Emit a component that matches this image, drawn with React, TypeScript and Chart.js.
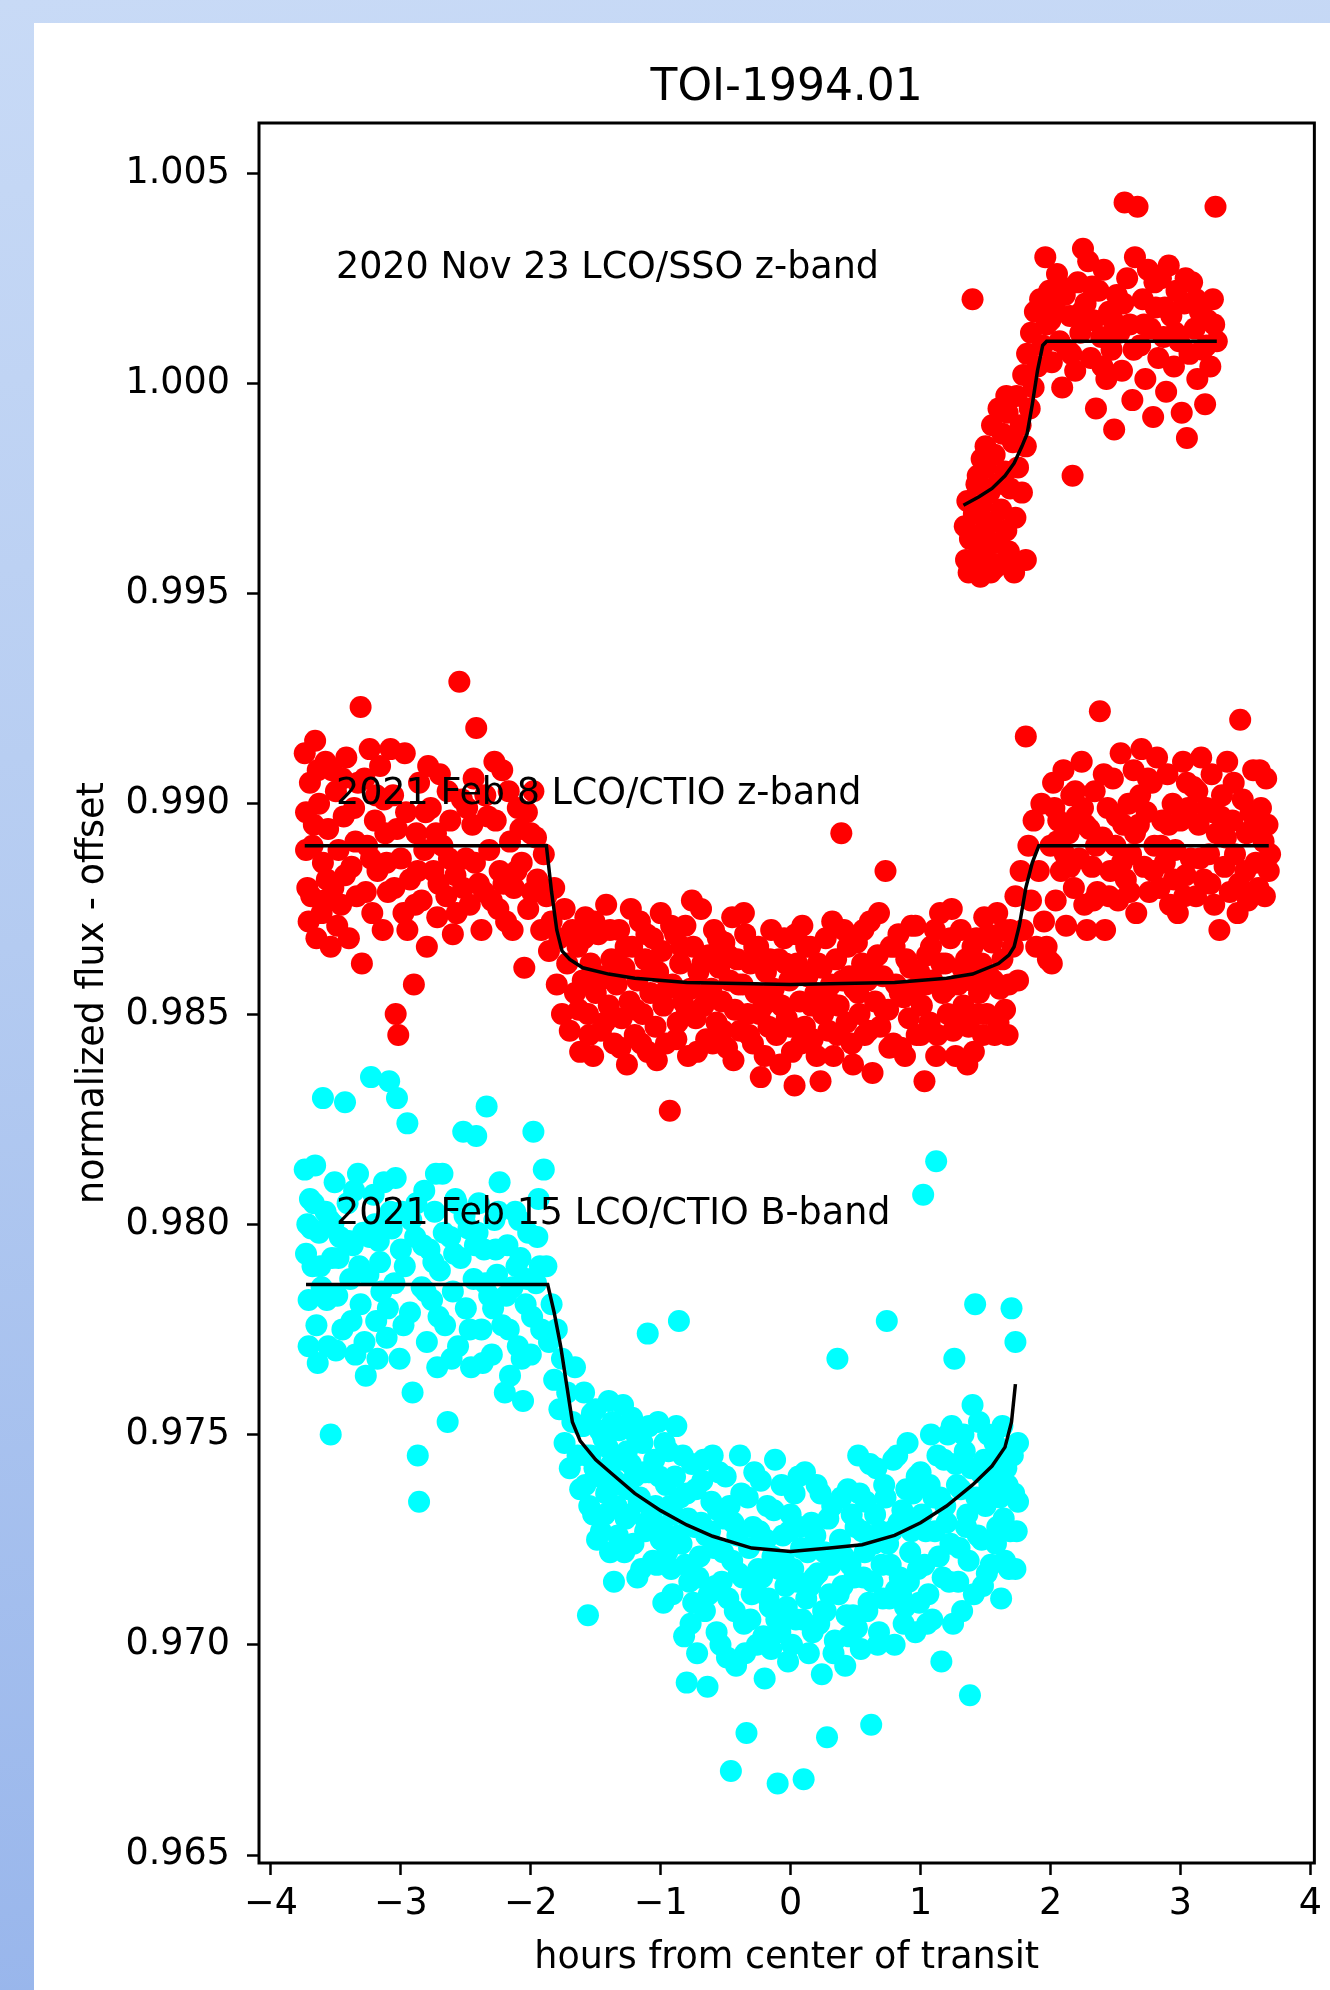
import React, { useEffect, useRef } from "react";
import { Chart, registerables } from "chart.js";

Chart.register(...registerables);

const FONT = '"DejaVu Sans", "Liberation Sans", sans-serif';

const chartTitle = "TOI-1994.01";
const xLabel = "hours from center of transit";
const yLabel = "normalized flux - offset";

const xTicks = [-4, -3, -2, -1, 0, 1, 2, 3, 4];
const yTicks = [0.965, 0.97, 0.975, 0.98, 0.985, 0.99, 0.995, 1.0, 1.005];
const xRange = [-4.092, 4.031];
const yRange = [0.96481, 1.00619];

const annotationTexts = [
  "2020 Nov 23 LCO/SSO z-band",
  "2021 Feb 8 LCO/CTIO z-band",
  "2021 Feb 15 LCO/CTIO B-band",
];
const annotationX = [-3.5, -3.5, -3.5];
const annotationY = [1.0025, 0.99, 0.98];

const nov23Points: [number, number][] = [
  [1.34, 0.9966], [1.35, 0.9958], [1.36, 0.9972], [1.37, 0.9955], [1.38, 0.9963], [1.40, 1.0020],
  [1.41, 0.9969], [1.42, 0.9957], [1.43, 0.9976], [1.44, 0.9978], [1.45, 0.9961], [1.46, 0.9954],
  [1.47, 0.9971], [1.47, 0.9982], [1.49, 0.9965], [1.50, 0.9980], [1.50, 0.9985], [1.51, 0.9958],
  [1.53, 0.9974], [1.54, 0.9955], [1.55, 0.9967], [1.55, 0.9990], [1.57, 0.9983], [1.57, 0.9956],
  [1.58, 0.9962], [1.59, 0.9976], [1.60, 0.9994], [1.61, 0.9957], [1.62, 0.9970], [1.63, 0.9988],
  [1.65, 0.9979], [1.66, 0.9965], [1.66, 0.9997], [1.67, 0.9993], [1.68, 0.9960], [1.69, 0.9975],
  [1.70, 0.9957], [1.71, 0.9986], [1.72, 0.9955], [1.73, 0.9968], [1.74, 0.9997], [1.75, 0.9980],
  [1.77, 0.9990], [1.78, 0.9974], [1.79, 1.0002], [1.81, 0.9985], [1.81, 0.9958], [1.82, 1.0007],
  [1.84, 0.9994], [1.85, 1.0012], [1.87, 0.9999], [1.88, 1.0017], [1.90, 1.0004], [1.92, 1.0020],
  [1.94, 1.0009], [1.96, 1.0030], [1.97, 1.0014], [1.99, 1.0022], [2.00, 1.0015], [2.01, 1.0005],
  [2.03, 1.0018], [2.05, 1.0026], [2.07, 1.0010], [2.08, 1.0023], [2.09, 0.9999], [2.11, 1.0021],
  [2.13, 1.0008], [2.15, 1.0016], [2.16, 1.0007], [2.17, 0.9978], [2.19, 1.0003], [2.21, 1.0024],
  [2.23, 1.0012], [2.24, 1.0017], [2.25, 1.0032], [2.27, 1.0019], [2.29, 1.0029], [2.31, 1.0006],
  [2.32, 1.0023], [2.33, 1.0015], [2.35, 0.9994], [2.37, 1.0022], [2.39, 1.0011], [2.40, 1.0004],
  [2.41, 1.0027], [2.43, 1.0001], [2.45, 1.0017], [2.47, 1.0008], [2.48, 1.0015], [2.49, 0.9989],
  [2.51, 1.0021], [2.53, 1.0012], [2.55, 1.0003], [2.56, 1.0019], [2.57, 1.0043], [2.59, 1.0025],
  [2.61, 1.0014], [2.63, 0.9996], [2.64, 1.0008], [2.65, 1.0030], [2.67, 1.0042], [2.69, 1.0009],
  [2.71, 1.0020], [2.72, 1.0014], [2.73, 1.0001], [2.75, 1.0027], [2.77, 1.0013], [2.79, 0.9992],
  [2.80, 1.0024], [2.81, 1.0018], [2.83, 1.0006], [2.85, 1.0025], [2.87, 1.0011], [2.88, 1.0018],
  [2.89, 0.9998], [2.91, 1.0028], [2.93, 1.0016], [2.95, 1.0004], [2.96, 1.0012], [2.97, 1.0022],
  [2.99, 1.0010], [3.01, 0.9993], [3.03, 1.0019], [3.04, 1.0025], [3.05, 0.9987], [3.07, 1.0007],
  [3.09, 1.0024], [3.11, 1.0013], [3.12, 1.0020], [3.13, 1.0001], [3.15, 1.0017], [3.17, 1.0008],
  [3.19, 0.9995], [3.20, 1.0009], [3.21, 1.0015], [3.23, 1.0004], [3.25, 1.0020], [3.26, 1.0014],
  [3.27, 1.0042], [3.28, 1.0010],
];

const feb8Points: [number, number][] = [
  [-3.74, 0.9912], [-3.73, 0.9898], [-3.73, 0.9889], [-3.72, 0.9880], [-3.71, 0.9872], [-3.70, 0.9905],
  [-3.69, 0.9878], [-3.68, 0.9890], [-3.67, 0.9895], [-3.66, 0.9915], [-3.65, 0.9868], [-3.64, 0.9908],
  [-3.63, 0.9900], [-3.61, 0.9874], [-3.60, 0.9886], [-3.59, 0.9877], [-3.58, 0.9910], [-3.57, 0.9882],
  [-3.56, 0.9894], [-3.54, 0.9866], [-3.53, 0.9908], [-3.52, 0.9880], [-3.50, 0.9903], [-3.49, 0.9871],
  [-3.48, 0.9889], [-3.46, 0.9876], [-3.45, 0.9906], [-3.44, 0.9897], [-3.43, 0.9883], [-3.42, 0.9911],
  [-3.40, 0.9868], [-3.38, 0.9885], [-3.36, 0.9899], [-3.35, 0.9891], [-3.34, 0.9878], [-3.33, 0.9905],
  [-3.31, 0.9923], [-3.30, 0.9862], [-3.28, 0.9906], [-3.27, 0.9879], [-3.26, 0.9890], [-3.24, 0.9913],
  [-3.23, 0.9887], [-3.22, 0.9874], [-3.20, 0.9896], [-3.19, 0.9902], [-3.18, 0.9884], [-3.16, 0.9909],
  [-3.14, 0.9870], [-3.13, 0.9901], [-3.12, 0.9893], [-3.11, 0.9886], [-3.10, 0.9879], [-3.08, 0.9913],
  [-3.06, 0.9902], [-3.05, 0.9880], [-3.04, 0.9850], [-3.03, 0.9894], [-3.02, 0.9845], [-3.00, 0.9887],
  [-2.98, 0.9874], [-2.97, 0.9912], [-2.96, 0.9898], [-2.95, 0.9870], [-2.93, 0.9882], [-2.90, 0.9857],
  [-2.89, 0.9876], [-2.88, 0.9893], [-2.87, 0.9884], [-2.86, 0.9905], [-2.84, 0.9877], [-2.82, 0.9889],
  [-2.81, 0.9898], [-2.80, 0.9866], [-2.79, 0.9909], [-2.77, 0.9899], [-2.75, 0.9884], [-2.73, 0.9893],
  [-2.72, 0.9873], [-2.71, 0.9881], [-2.70, 0.9907], [-2.68, 0.9890], [-2.65, 0.9878], [-2.64, 0.9903],
  [-2.63, 0.9887], [-2.62, 0.9896], [-2.60, 0.9869], [-2.58, 0.9883], [-2.57, 0.9874], [-2.55, 0.9929],
  [-2.53, 0.9901], [-2.52, 0.9880], [-2.50, 0.9887], [-2.49, 0.9899], [-2.47, 0.9876], [-2.45, 0.9895],
  [-2.44, 0.9906], [-2.43, 0.9886], [-2.42, 0.9918], [-2.40, 0.9881], [-2.38, 0.9870], [-2.36, 0.9879],
  [-2.35, 0.9902], [-2.33, 0.9897], [-2.32, 0.9889], [-2.30, 0.9877], [-2.28, 0.9910], [-2.27, 0.9896],
  [-2.25, 0.9875], [-2.24, 0.9884], [-2.22, 0.9908], [-2.21, 0.9881], [-2.19, 0.9872], [-2.17, 0.9903],
  [-2.16, 0.9891], [-2.14, 0.9870], [-2.13, 0.9880], [-2.11, 0.9884], [-2.10, 0.9899], [-2.08, 0.9894],
  [-2.07, 0.9886], [-2.05, 0.9861], [-2.03, 0.9898], [-2.02, 0.9875], [-2.00, 0.9893], [-1.99, 0.9879],
  [-1.98, 0.9903], [-1.96, 0.9892], [-1.95, 0.9882], [-1.92, 0.9870], [-1.90, 0.9888],
  [-1.88, 0.9878], [-1.86, 0.9865], [-1.84, 0.9872], [-1.82, 0.9880], [-1.80, 0.9857], [-1.78, 0.9868],
  [-1.76, 0.9850], [-1.74, 0.9875], [-1.72, 0.9862], [-1.70, 0.9846], [-1.68, 0.9870], [-1.66, 0.9855],
  [-1.64, 0.9866], [-1.63, 0.9851], [-1.62, 0.9841], [-1.60, 0.9858], [-1.59, 0.9868], [-1.58, 0.9873],
  [-1.56, 0.9850], [-1.55, 0.9845], [-1.54, 0.9862], [-1.52, 0.9840], [-1.51, 0.9872], [-1.50, 0.9855],
  [-1.48, 0.9869], [-1.47, 0.9858], [-1.46, 0.9846], [-1.44, 0.9859], [-1.43, 0.9848], [-1.42, 0.9876],
  [-1.40, 0.9852], [-1.39, 0.9870], [-1.38, 0.9863], [-1.36, 0.9843], [-1.35, 0.9862], [-1.34, 0.9857],
  [-1.32, 0.9870], [-1.31, 0.9842], [-1.30, 0.9849], [-1.28, 0.9861], [-1.27, 0.9866], [-1.26, 0.9838],
  [-1.24, 0.9853], [-1.23, 0.9875], [-1.22, 0.9866], [-1.20, 0.9845], [-1.19, 0.9851], [-1.18, 0.9858],
  [-1.16, 0.9872], [-1.15, 0.9843], [-1.14, 0.9850], [-1.12, 0.9863], [-1.11, 0.9869], [-1.10, 0.9841],
  [-1.08, 0.9855], [-1.07, 0.9861], [-1.06, 0.9868], [-1.04, 0.9847], [-1.03, 0.9839], [-1.02, 0.9860],
  [-1.00, 0.9874], [-0.99, 0.9865], [-0.98, 0.9852], [-0.96, 0.9843], [-0.95, 0.9856], [-0.93, 0.9827],
  [-0.92, 0.9871], [-0.91, 0.9857], [-0.89, 0.9869], [-0.88, 0.9844], [-0.87, 0.9848], [-0.85, 0.9862],
  [-0.84, 0.9866], [-0.83, 0.9853], [-0.81, 0.9871], [-0.80, 0.9851], [-0.79, 0.9840], [-0.77, 0.9856],
  [-0.76, 0.9877], [-0.75, 0.9866], [-0.73, 0.9849], [-0.72, 0.9841], [-0.71, 0.9860], [-0.69, 0.9875],
  [-0.68, 0.9862], [-0.67, 0.9852], [-0.65, 0.9844], [-0.64, 0.9855], [-0.63, 0.9864], [-0.61, 0.9856],
  [-0.60, 0.9843], [-0.59, 0.9870], [-0.57, 0.9848], [-0.56, 0.9868], [-0.55, 0.9861], [-0.53, 0.9853],
  [-0.52, 0.9846], [-0.51, 0.9867], [-0.49, 0.9842], [-0.48, 0.9864], [-0.47, 0.9858], [-0.45, 0.9873],
  [-0.44, 0.9839], [-0.43, 0.9851], [-0.41, 0.9863], [-0.40, 0.9857], [-0.39, 0.9846], [-0.37, 0.9857],
  [-0.36, 0.9874], [-0.35, 0.9869], [-0.33, 0.9850], [-0.32, 0.9845], [-0.31, 0.9862], [-0.29, 0.9843],
  [-0.28, 0.9866], [-0.27, 0.9855], [-0.25, 0.9866], [-0.24, 0.9850], [-0.23, 0.9835], [-0.21, 0.9852],
  [-0.20, 0.9840], [-0.19, 0.9860], [-0.17, 0.9847], [-0.16, 0.9863], [-0.15, 0.9870], [-0.13, 0.9856],
  [-0.12, 0.9853], [-0.11, 0.9845], [-0.09, 0.9863], [-0.08, 0.9838], [-0.07, 0.9852], [-0.05, 0.9868],
  [-0.04, 0.9862], [-0.03, 0.9849], [-0.01, 0.9858], [0.00, 0.9847], [0.01, 0.9841], [0.03, 0.9833],
  [0.04, 0.9869], [0.05, 0.9862], [0.07, 0.9853], [0.08, 0.9843], [0.09, 0.9871], [0.11, 0.9847],
  [0.12, 0.9866], [0.13, 0.9859], [0.15, 0.9866], [0.16, 0.9852], [0.17, 0.9844], [0.19, 0.9855],
  [0.20, 0.9840], [0.21, 0.9862], [0.23, 0.9834], [0.24, 0.9861], [0.25, 0.9850], [0.27, 0.9868],
  [0.28, 0.9854], [0.29, 0.9846], [0.31, 0.9857], [0.32, 0.9872], [0.33, 0.9840], [0.35, 0.9863],
  [0.36, 0.9845], [0.37, 0.9852], [0.39, 0.9893], [0.40, 0.9858], [0.41, 0.9870], [0.43, 0.9848],
  [0.44, 0.9866], [0.45, 0.9859], [0.47, 0.9843], [0.48, 0.9838], [0.49, 0.9856], [0.51, 0.9867],
  [0.52, 0.9855], [0.53, 0.9850], [0.55, 0.9862], [0.56, 0.9870], [0.57, 0.9845], [0.59, 0.9858],
  [0.60, 0.9846], [0.61, 0.9872], [0.63, 0.9836], [0.64, 0.9860], [0.65, 0.9853], [0.67, 0.9864],
  [0.68, 0.9874], [0.69, 0.9847], [0.71, 0.9859], [0.72, 0.9851], [0.73, 0.9884], [0.75, 0.9851],
  [0.76, 0.9842], [0.77, 0.9866], [0.79, 0.9843], [0.80, 0.9866], [0.81, 0.9857], [0.83, 0.9869],
  [0.84, 0.9855], [0.85, 0.9842], [0.87, 0.9854], [0.88, 0.9840], [0.89, 0.9863], [0.91, 0.9849],
  [0.92, 0.9861], [0.93, 0.9871], [0.95, 0.9856], [0.96, 0.9871], [0.97, 0.9845], [0.99, 0.9860],
  [1.00, 0.9845], [1.01, 0.9852], [1.03, 0.9834], [1.04, 0.9857], [1.05, 0.9864], [1.07, 0.9848],
  [1.08, 0.9866], [1.09, 0.9858], [1.11, 0.9870], [1.12, 0.9840], [1.13, 0.9845], [1.15, 0.9874],
  [1.16, 0.9862], [1.17, 0.9855], [1.19, 0.9862], [1.20, 0.9856], [1.21, 0.9850], [1.23, 0.9868],
  [1.24, 0.9875], [1.25, 0.9846], [1.27, 0.9840], [1.28, 0.9849], [1.29, 0.9857], [1.31, 0.9870],
  [1.32, 0.9861], [1.33, 0.9852], [1.35, 0.9863], [1.36, 0.9838], [1.37, 0.9847], [1.39, 0.9858],
  [1.40, 0.9866], [1.41, 0.9841], [1.43, 0.9868], [1.44, 0.9850], [1.45, 0.9855], [1.47, 0.9862],
  [1.48, 0.9845], [1.49, 0.9873], [1.51, 0.9850], [1.52, 0.9869], [1.53, 0.9859], [1.55, 0.9867],
  [1.56, 0.9858], [1.57, 0.9845], [1.59, 0.9874], [1.60, 0.9848], [1.61, 0.9856], [1.63, 0.9863],
  [1.64, 0.9870], [1.65, 0.9851], [1.67, 0.9845], [1.68, 0.9857], [1.69, 0.9870],
  [1.71, 0.9866], [1.73, 0.9878], [1.75, 0.9858], [1.77, 0.9884], [1.79, 0.9870], [1.81, 0.9916],
  [1.83, 0.9890], [1.85, 0.9877], [1.87, 0.9896], [1.89, 0.9866], [1.91, 0.9884], [1.93, 0.9900],
  [1.95, 0.9872], [1.97, 0.9866], [1.98, 0.9863], [2.00, 0.9890], [2.01, 0.9862], [2.02, 0.9905],
  [2.03, 0.9899], [2.04, 0.9877], [2.05, 0.9891], [2.06, 0.9896], [2.08, 0.9884], [2.10, 0.9908],
  [2.11, 0.9888], [2.12, 0.9871], [2.14, 0.9893], [2.15, 0.9885], [2.16, 0.9902], [2.18, 0.9880],
  [2.19, 0.9903], [2.20, 0.9897], [2.22, 0.9887], [2.24, 0.9910], [2.25, 0.9899], [2.26, 0.9876],
  [2.27, 0.9895], [2.28, 0.9870], [2.30, 0.9894], [2.32, 0.9885], [2.33, 0.9877], [2.34, 0.9903],
  [2.35, 0.9890], [2.36, 0.9879], [2.38, 0.9922], [2.40, 0.9892], [2.41, 0.9907], [2.42, 0.9870],
  [2.44, 0.9899], [2.45, 0.9878], [2.46, 0.9884], [2.48, 0.9906], [2.50, 0.9890], [2.51, 0.9897],
  [2.52, 0.9877], [2.54, 0.9912], [2.55, 0.9886], [2.56, 0.9895], [2.58, 0.9882], [2.60, 0.9900],
  [2.61, 0.9879], [2.62, 0.9888], [2.64, 0.9908], [2.65, 0.9893], [2.66, 0.9874], [2.68, 0.9895],
  [2.69, 0.9902], [2.70, 0.9913], [2.72, 0.9885], [2.74, 0.9898], [2.75, 0.9906], [2.76, 0.9879],
  [2.78, 0.9905], [2.79, 0.9884], [2.80, 0.9890], [2.82, 0.9911], [2.84, 0.9880], [2.85, 0.9890],
  [2.86, 0.9896], [2.88, 0.9886], [2.90, 0.9907], [2.91, 0.9895], [2.92, 0.9876], [2.94, 0.9900],
  [2.95, 0.9882], [2.96, 0.9889], [2.98, 0.9874], [3.00, 0.9896], [3.02, 0.9910], [3.03, 0.9878],
  [3.04, 0.9883], [3.05, 0.9905], [3.06, 0.9899], [3.08, 0.9887], [3.10, 0.9904], [3.12, 0.9878],
  [3.13, 0.9903], [3.14, 0.9895], [3.15, 0.9887], [3.16, 0.9911], [3.18, 0.9882], [3.20, 0.9899],
  [3.22, 0.9888], [3.23, 0.9881], [3.24, 0.9907], [3.25, 0.9898], [3.26, 0.9876], [3.28, 0.9893],
  [3.30, 0.9870], [3.31, 0.9897], [3.32, 0.9902], [3.34, 0.9885], [3.35, 0.9892], [3.36, 0.9910],
  [3.38, 0.9879], [3.40, 0.9896], [3.41, 0.9905], [3.42, 0.9888], [3.44, 0.9874], [3.45, 0.9881],
  [3.46, 0.9920], [3.48, 0.9901], [3.50, 0.9884], [3.51, 0.9893], [3.52, 0.9877], [3.54, 0.9898],
  [3.55, 0.9894], [3.56, 0.9908], [3.58, 0.9886], [3.60, 0.9880], [3.61, 0.9908], [3.62, 0.9899],
  [3.64, 0.9891], [3.65, 0.9878], [3.66, 0.9906], [3.67, 0.9895], [3.68, 0.9884], [3.69, 0.9888],
];

const feb15Points: [number, number][] = [
  [-3.74, 0.9813], [-3.73, 0.9793], [-3.72, 0.9800], [-3.71, 0.9782], [-3.71, 0.9771], [-3.70, 0.9806],
  [-3.69, 0.9799], [-3.68, 0.9790], [-3.67, 0.9805], [-3.66, 0.9814], [-3.65, 0.9776], [-3.64, 0.9767],
  [-3.63, 0.9798], [-3.62, 0.9790], [-3.61, 0.9785], [-3.60, 0.9830], [-3.58, 0.9803], [-3.57, 0.9782],
  [-3.56, 0.9771], [-3.55, 0.9801], [-3.54, 0.9750], [-3.53, 0.9792], [-3.52, 0.9800], [-3.51, 0.9810],
  [-3.50, 0.9770], [-3.49, 0.9783], [-3.48, 0.9792], [-3.47, 0.9797], [-3.45, 0.9775], [-3.43, 0.9829],
  [-3.41, 0.9805], [-3.40, 0.9796], [-3.39, 0.9787], [-3.38, 0.9777], [-3.37, 0.9795], [-3.36, 0.9808],
  [-3.35, 0.9769], [-3.33, 0.9812], [-3.32, 0.9790], [-3.31, 0.9781], [-3.29, 0.9798], [-3.28, 0.9772],
  [-3.27, 0.9764], [-3.25, 0.9788], [-3.24, 0.9797], [-3.23, 0.9835], [-3.21, 0.9807], [-3.20, 0.9800],
  [-3.19, 0.9777], [-3.18, 0.9768], [-3.17, 0.9796], [-3.16, 0.9791], [-3.15, 0.9784], [-3.13, 0.9810],
  [-3.11, 0.9773], [-3.10, 0.9780], [-3.09, 0.9834], [-3.08, 0.9803], [-3.07, 0.9799], [-3.05, 0.9786],
  [-3.04, 0.9811], [-3.03, 0.9830], [-3.01, 0.9768], [-3.00, 0.9794], [-2.99, 0.9803], [-2.98, 0.9776],
  [-2.97, 0.9790], [-2.95, 0.9824], [-2.93, 0.9779], [-2.92, 0.9801], [-2.91, 0.9760], [-2.89, 0.9797],
  [-2.88, 0.9805], [-2.87, 0.9745], [-2.86, 0.9734], [-2.84, 0.9785], [-2.83, 0.9795], [-2.82, 0.9808],
  [-2.81, 0.9784], [-2.80, 0.9772], [-2.78, 0.9794], [-2.76, 0.9782], [-2.75, 0.9791], [-2.74, 0.9803],
  [-2.73, 0.9812], [-2.72, 0.9766], [-2.71, 0.9778], [-2.70, 0.9789], [-2.68, 0.9812], [-2.67, 0.9798],
  [-2.66, 0.9776], [-2.64, 0.9753], [-2.62, 0.9797], [-2.61, 0.9768], [-2.60, 0.9784], [-2.59, 0.9793],
  [-2.58, 0.9806], [-2.57, 0.9805], [-2.56, 0.9771], [-2.54, 0.9792], [-2.52, 0.9822], [-2.51, 0.9802],
  [-2.50, 0.9780], [-2.48, 0.9799], [-2.47, 0.9775], [-2.46, 0.9766], [-2.44, 0.9787], [-2.43, 0.9795],
  [-2.42, 0.9821], [-2.41, 0.9798], [-2.40, 0.9805], [-2.38, 0.9775], [-2.37, 0.9767], [-2.36, 0.9794],
  [-2.35, 0.9786], [-2.34, 0.9828], [-2.32, 0.9783], [-2.30, 0.9769], [-2.29, 0.9780], [-2.28, 0.9801],
  [-2.27, 0.9794], [-2.26, 0.9788], [-2.25, 0.9803], [-2.24, 0.9810], [-2.22, 0.9776], [-2.20, 0.9760],
  [-2.19, 0.9783], [-2.18, 0.9795], [-2.17, 0.9775], [-2.16, 0.9764], [-2.14, 0.9785], [-2.12, 0.9803],
  [-2.11, 0.9790], [-2.10, 0.9771], [-2.09, 0.9801], [-2.08, 0.9792], [-2.07, 0.9768], [-2.06, 0.9758],
  [-2.04, 0.9781], [-2.03, 0.9787], [-2.02, 0.9798], [-2.00, 0.9769], [-1.99, 0.9778], [-1.98, 0.9822],
  [-1.96, 0.9786], [-1.95, 0.9797], [-1.94, 0.9806], [-1.93, 0.9790], [-1.92, 0.9775], [-1.90, 0.9813],
  [-1.88, 0.9790], [-1.86, 0.9772], [-1.84, 0.9781], [-1.82, 0.9763], [-1.80, 0.9775], [-1.78, 0.9756],
  [-1.76, 0.9768], [-1.74, 0.9748], [-1.72, 0.9760], [-1.70, 0.9742], [-1.68, 0.9753], [-1.66, 0.9766],
  [-1.64, 0.9745], [-1.62, 0.9737],
  [-1.60, 0.9752], [-1.59, 0.9760], [-1.58, 0.9738], [-1.57, 0.9745], [-1.56, 0.9707], [-1.55, 0.9733],
  [-1.54, 0.9745], [-1.53, 0.9755], [-1.52, 0.9731], [-1.51, 0.9742], [-1.50, 0.9756], [-1.49, 0.9725],
  [-1.48, 0.9740], [-1.47, 0.9751], [-1.46, 0.9727], [-1.45, 0.9750], [-1.44, 0.9749], [-1.43, 0.9731],
  [-1.42, 0.9736], [-1.41, 0.9747], [-1.40, 0.9758], [-1.39, 0.9722], [-1.38, 0.9743], [-1.37, 0.9753],
  [-1.36, 0.9715], [-1.35, 0.9739], [-1.34, 0.9733], [-1.33, 0.9726], [-1.32, 0.9751], [-1.31, 0.9744],
  [-1.30, 0.9738], [-1.29, 0.9757], [-1.28, 0.9722], [-1.27, 0.9730], [-1.26, 0.9746], [-1.25, 0.9737],
  [-1.24, 0.9731], [-1.23, 0.9743], [-1.22, 0.9754], [-1.21, 0.9724], [-1.20, 0.9740], [-1.19, 0.9750],
  [-1.18, 0.9716], [-1.17, 0.9734], [-1.16, 0.9735], [-1.15, 0.9718], [-1.14, 0.9748], [-1.13, 0.9741],
  [-1.12, 0.9727], [-1.11, 0.9729], [-1.10, 0.9774], [-1.09, 0.9752], [-1.08, 0.9741], [-1.07, 0.9731],
  [-1.06, 0.9720], [-1.05, 0.9744], [-1.04, 0.9733], [-1.03, 0.9719], [-1.02, 0.9753], [-1.01, 0.9740],
  [-1.00, 0.9725], [-0.99, 0.9728], [-0.98, 0.9710], [-0.97, 0.9748], [-0.96, 0.9738], [-0.95, 0.9722],
  [-0.94, 0.9746], [-0.93, 0.9733], [-0.92, 0.9718], [-0.91, 0.9712], [-0.90, 0.9731], [-0.89, 0.9740],
  [-0.88, 0.9752], [-0.87, 0.9726], [-0.86, 0.9777], [-0.85, 0.9735], [-0.84, 0.9724], [-0.83, 0.9745],
  [-0.82, 0.9702], [-0.81, 0.9719], [-0.80, 0.9736], [-0.80, 0.9691], [-0.79, 0.9730], [-0.78, 0.9715],
  [-0.77, 0.9705], [-0.76, 0.9743], [-0.75, 0.9710], [-0.74, 0.9728], [-0.73, 0.9737], [-0.72, 0.9698],
  [-0.71, 0.9716], [-0.70, 0.9721], [-0.69, 0.9729], [-0.68, 0.9739], [-0.67, 0.9744], [-0.66, 0.9708],
  [-0.65, 0.9726], [-0.64, 0.9690], [-0.63, 0.9712], [-0.62, 0.9727], [-0.61, 0.9734], [-0.60, 0.9745],
  [-0.59, 0.9723], [-0.58, 0.9714], [-0.57, 0.9703], [-0.56, 0.9732], [-0.55, 0.9741], [-0.54, 0.9700],
  [-0.53, 0.9715], [-0.52, 0.9722], [-0.51, 0.9730], [-0.50, 0.9740], [-0.49, 0.9697], [-0.48, 0.9711],
  [-0.47, 0.9733], [-0.46, 0.9670], [-0.45, 0.9720], [-0.44, 0.9729], [-0.43, 0.9708], [-0.42, 0.9695],
  [-0.41, 0.9726], [-0.40, 0.9717], [-0.39, 0.9745], [-0.38, 0.9736], [-0.37, 0.9716], [-0.36, 0.9705],
  [-0.35, 0.9698], [-0.34, 0.9679], [-0.33, 0.9735], [-0.32, 0.9723], [-0.31, 0.9706], [-0.30, 0.9712],
  [-0.29, 0.9728], [-0.28, 0.9741], [-0.27, 0.9714], [-0.26, 0.9700], [-0.25, 0.9718], [-0.24, 0.9727],
  [-0.23, 0.9739], [-0.22, 0.9716], [-0.21, 0.9702], [-0.20, 0.9692], [-0.19, 0.9725], [-0.18, 0.9733],
  [-0.17, 0.9711], [-0.16, 0.9709], [-0.15, 0.9699], [-0.14, 0.9721], [-0.13, 0.9732], [-0.12, 0.9744],
  [-0.11, 0.9706], [-0.10, 0.9667], [-0.09, 0.9718], [-0.08, 0.9703], [-0.07, 0.9738], [-0.06, 0.9726],
  [-0.05, 0.9720], [-0.04, 0.9714], [-0.03, 0.9709], [-0.02, 0.9696], [-0.01, 0.9727], [0.00, 0.9731],
  [0.01, 0.9700], [0.02, 0.9718], [0.03, 0.9736], [0.04, 0.9706], [0.05, 0.9715], [0.06, 0.9740],
  [0.07, 0.9728], [0.08, 0.9723], [0.09, 0.9706], [0.10, 0.9668], [0.11, 0.9741], [0.12, 0.9711],
  [0.13, 0.9722], [0.14, 0.9698], [0.15, 0.9714], [0.16, 0.9729], [0.17, 0.9703], [0.18, 0.9716],
  [0.19, 0.9726], [0.20, 0.9738], [0.21, 0.9717], [0.22, 0.9705], [0.23, 0.9736], [0.24, 0.9693],
  [0.25, 0.9708], [0.26, 0.9722], [0.27, 0.9708], [0.28, 0.9678], [0.29, 0.9730], [0.30, 0.9712],
  [0.31, 0.9719], [0.32, 0.9733], [0.33, 0.9698], [0.34, 0.9701], [0.35, 0.9722], [0.36, 0.9768],
  [0.37, 0.9712], [0.38, 0.9725], [0.39, 0.9735], [0.40, 0.9714], [0.41, 0.9721], [0.42, 0.9695],
  [0.43, 0.9707], [0.44, 0.9737], [0.45, 0.9702], [0.46, 0.9719], [0.47, 0.9731], [0.48, 0.9707],
  [0.49, 0.9716], [0.50, 0.9728], [0.51, 0.9704], [0.52, 0.9745], [0.53, 0.9736], [0.54, 0.9699],
  [0.55, 0.9727], [0.56, 0.9716], [0.57, 0.9722], [0.58, 0.9734], [0.59, 0.9708], [0.60, 0.9710],
  [0.61, 0.9743], [0.62, 0.9681], [0.63, 0.9715], [0.64, 0.9724], [0.65, 0.9731], [0.66, 0.9742],
  [0.67, 0.9700], [0.68, 0.9703], [0.69, 0.9727], [0.70, 0.9719], [0.71, 0.9711], [0.72, 0.9738],
  [0.73, 0.9735], [0.74, 0.9777], [0.75, 0.9724], [0.76, 0.9711], [0.77, 0.9719], [0.78, 0.9727],
  [0.79, 0.9744], [0.80, 0.9700], [0.81, 0.9713], [0.82, 0.9745], [0.83, 0.9729], [0.84, 0.9716],
  [0.85, 0.9712], [0.86, 0.9732], [0.87, 0.9705], [0.88, 0.9709], [0.89, 0.9737], [0.90, 0.9748],
  [0.91, 0.9715], [0.92, 0.9722], [0.93, 0.9727], [0.94, 0.9736], [0.95, 0.9730], [0.96, 0.9703],
  [0.97, 0.9740], [0.98, 0.9718], [0.99, 0.9710], [1.00, 0.9741], [1.01, 0.9731], [1.02, 0.9807],
  [1.03, 0.9719], [1.04, 0.9727], [1.05, 0.9705], [1.06, 0.9712], [1.07, 0.9738], [1.08, 0.9750],
  [1.09, 0.9706], [1.10, 0.9735], [1.11, 0.9727], [1.12, 0.9815], [1.13, 0.9745], [1.14, 0.9721],
  [1.15, 0.9735], [1.16, 0.9696], [1.17, 0.9716], [1.18, 0.9744], [1.19, 0.9733], [1.20, 0.9729],
  [1.21, 0.9750], [1.22, 0.9715], [1.23, 0.9724], [1.24, 0.9752], [1.25, 0.9705], [1.26, 0.9768],
  [1.27, 0.9743], [1.28, 0.9738], [1.29, 0.9715], [1.30, 0.9723], [1.31, 0.9737], [1.32, 0.9708],
  [1.33, 0.9750], [1.34, 0.9746], [1.35, 0.9728], [1.36, 0.9731], [1.37, 0.9720], [1.38, 0.9688],
  [1.39, 0.9742], [1.40, 0.9757], [1.41, 0.9712], [1.42, 0.9781], [1.43, 0.9735], [1.44, 0.9726],
  [1.45, 0.9753], [1.46, 0.9741], [1.47, 0.9725], [1.48, 0.9714], [1.49, 0.9744], [1.50, 0.9733],
  [1.51, 0.9717], [1.52, 0.9750], [1.53, 0.9738], [1.54, 0.9719], [1.55, 0.9740], [1.56, 0.9737],
  [1.57, 0.9748], [1.58, 0.9724], [1.59, 0.9728], [1.60, 0.9745], [1.61, 0.9735], [1.62, 0.9711],
  [1.63, 0.9752], [1.64, 0.9730], [1.65, 0.9720], [1.66, 0.9742], [1.67, 0.9738], [1.68, 0.9718],
  [1.69, 0.9727], [1.70, 0.9780], [1.71, 0.9745], [1.72, 0.9736], [1.73, 0.9772], [1.73, 0.9718],
  [1.74, 0.9727], [1.75, 0.9748], [1.75, 0.9734],
];

const nov23Model: [number, number][] = [
  [1.33, 0.9971], [1.45, 0.9973], [1.55, 0.9975], [1.65, 0.9978], [1.72, 0.9981], [1.78, 0.9985],
  [1.82, 0.9988], [1.86, 0.9995], [1.90, 1.0003], [1.94, 1.0009], [1.97, 1.0010], [3.28, 1.0010],
];

const feb8Model: [number, number][] = [
  [-3.74, 0.989], [-1.88, 0.989], [-1.84, 0.9879], [-1.80, 0.9870], [-1.76, 0.9865], [-1.70, 0.9863],
  [-1.60, 0.9861], [-1.40, 0.98595], [-1.20, 0.98585], [-0.80, 0.98575], [0.0, 0.9857], [0.80, 0.98575],
  [1.20, 0.98585], [1.40, 0.98595], [1.60, 0.9862], [1.68, 0.9864], [1.72, 0.9866], [1.76, 0.9871],
  [1.81, 0.9880], [1.86, 0.9886], [1.91, 0.989], [3.68, 0.989],
];

const feb15Model: [number, number][] = [
  [-3.73, 0.97857], [-1.87, 0.97857], [-1.82, 0.9779], [-1.77, 0.9771], [-1.72, 0.9761], [-1.68, 0.9753],
  [-1.62, 0.97485], [-1.50, 0.9744], [-1.385, 0.97409], [-1.2, 0.9736], [-1.0, 0.97319], [-0.8, 0.97285],
  [-0.6, 0.97258], [-0.3, 0.9723], [0.0, 0.97222], [0.3, 0.9723], [0.55, 0.97238], [0.8, 0.9726],
  [1.0, 0.9729], [1.2, 0.9733], [1.4, 0.9738], [1.55, 0.97425], [1.65, 0.9747], [1.70, 0.9753],
  [1.73, 0.9762],
];

const CANVAS_W = 1296;
const CANVAS_H = 1967;

const toXY = (pts: [number, number][]) => pts.map(([x, y]) => ({ x, y }));

const overlayPlugin = {
  id: "overlay",
  afterDatasetsDraw(chart: any) {
    const { ctx, scales } = chart;
    ctx.save();
    ctx.fillStyle = "#000";
    ctx.font = `36.5px ${FONT}`;
    ctx.textAlign = "left";
    ctx.textBaseline = "alphabetic";
    annotationTexts.forEach((t, i) => {
      ctx.fillText(t, scales.x.getPixelForValue(annotationX[i]), scales.y.getPixelForValue(annotationY[i]));
    });
    ctx.restore();
  },
  afterDraw(chart: any) {
    const { ctx, chartArea } = chart;
    const { left, right, top, bottom } = chartArea;
    ctx.save();
    ctx.strokeStyle = "#000";
    ctx.lineWidth = 3;
    ctx.strokeRect(left, top, right - left, bottom - top);
    ctx.fillStyle = "#000";
    ctx.textAlign = "center";
    ctx.textBaseline = "alphabetic";
    ctx.font = `44px ${FONT}`;
    ctx.fillText(chartTitle, (left + right) / 2, 77);
    ctx.font = `36.5px ${FONT}`;
    ctx.fillText(xLabel, (left + right) / 2, 1945);
    ctx.translate(69, (top + bottom) / 2);
    ctx.rotate(-Math.PI / 2);
    ctx.fillText(yLabel, 0, 0);
    ctx.restore();
  },
};

export default function App() {
  const ref = useRef<HTMLCanvasElement | null>(null);

  useEffect(() => {
    if (!ref.current) return;
    const pointStyle = { pointRadius: 11, pointBorderWidth: 0, pointHoverRadius: 11, showLine: false };
    const lineStyle = {
      showLine: true, pointRadius: 0, pointHoverRadius: 0, borderColor: "#000", borderWidth: 3.5,
      fill: false, tension: 0, order: 0,
    };
    const chart = new Chart(ref.current, {
      type: "scatter",
      data: {
        datasets: [
          { label: "2020 Nov 23", data: toXY(nov23Points), backgroundColor: "#ff0000", order: 1, ...pointStyle },
          { label: "2021 Feb 8", data: toXY(feb8Points), backgroundColor: "#ff0000", order: 1, ...pointStyle },
          { label: "2021 Feb 15", data: toXY(feb15Points), backgroundColor: "#00ffff", order: 1, ...pointStyle },
          { label: "model Nov 23", data: toXY(nov23Model), ...lineStyle },
          { label: "model Feb 8", data: toXY(feb8Model), ...lineStyle },
          { label: "model Feb 15", data: toXY(feb15Model), ...lineStyle },
        ] as any,
      },
      options: {
        animation: false,
        responsive: false,
        devicePixelRatio: 1,
        layout: { padding: { top: 100, right: 10, bottom: 0, left: 0 } },
        plugins: { legend: { display: false }, title: { display: false }, tooltip: { enabled: false } },
        scales: {
          x: {
            type: "linear",
            min: xRange[0],
            max: xRange[1],
            afterBuildTicks: (scale: any) => { scale.ticks = xTicks.map((v) => ({ value: v })); },
            afterFit: (scale: any) => { scale.height = CANVAS_H - 1840; },
            grid: { drawOnChartArea: false, drawTicks: true, tickLength: 12, tickWidth: 2.5, tickColor: "#000" },
            border: { display: false },
            ticks: {
              autoSkip: false, maxRotation: 0, padding: 8, color: "#000",
              font: { family: FONT, size: 36.5 },
              callback: (v: any) => (Number(v) < 0 ? "\u2212" + Math.abs(Number(v)) : String(v)),
            },
          },
          y: {
            type: "linear",
            min: yRange[0],
            max: yRange[1],
            afterBuildTicks: (scale: any) => { scale.ticks = yTicks.map((v) => ({ value: v })); },
            afterFit: (scale: any) => { scale.width = 225; },
            grid: { drawOnChartArea: false, drawTicks: true, tickLength: 12, tickWidth: 2.5, tickColor: "#000" },
            border: { display: false },
            ticks: {
              autoSkip: false, padding: 17, color: "#000",
              font: { family: FONT, size: 36.5 },
              callback: (v: any) => Number(v).toFixed(3),
            },
          },
        },
      } as any,
      plugins: [overlayPlugin],
    });
    return () => chart.destroy();
  }, []);

  return (
    <div
      style={{
        position: "absolute", left: 0, top: 0, width: 1330, height: 1990, overflow: "hidden",
        background: "linear-gradient(175deg, #c8daf6 0%, #b4cbf1 45%, #96b4eb 100%)",
      }}
    >
      <div style={{ position: "absolute", left: 34, top: 23, width: CANVAS_W, height: CANVAS_H, background: "#fff" }}>
        <canvas ref={ref} width={CANVAS_W} height={CANVAS_H} style={{ display: "block", width: CANVAS_W, height: CANVAS_H }} />
      </div>
    </div>
  );
}
